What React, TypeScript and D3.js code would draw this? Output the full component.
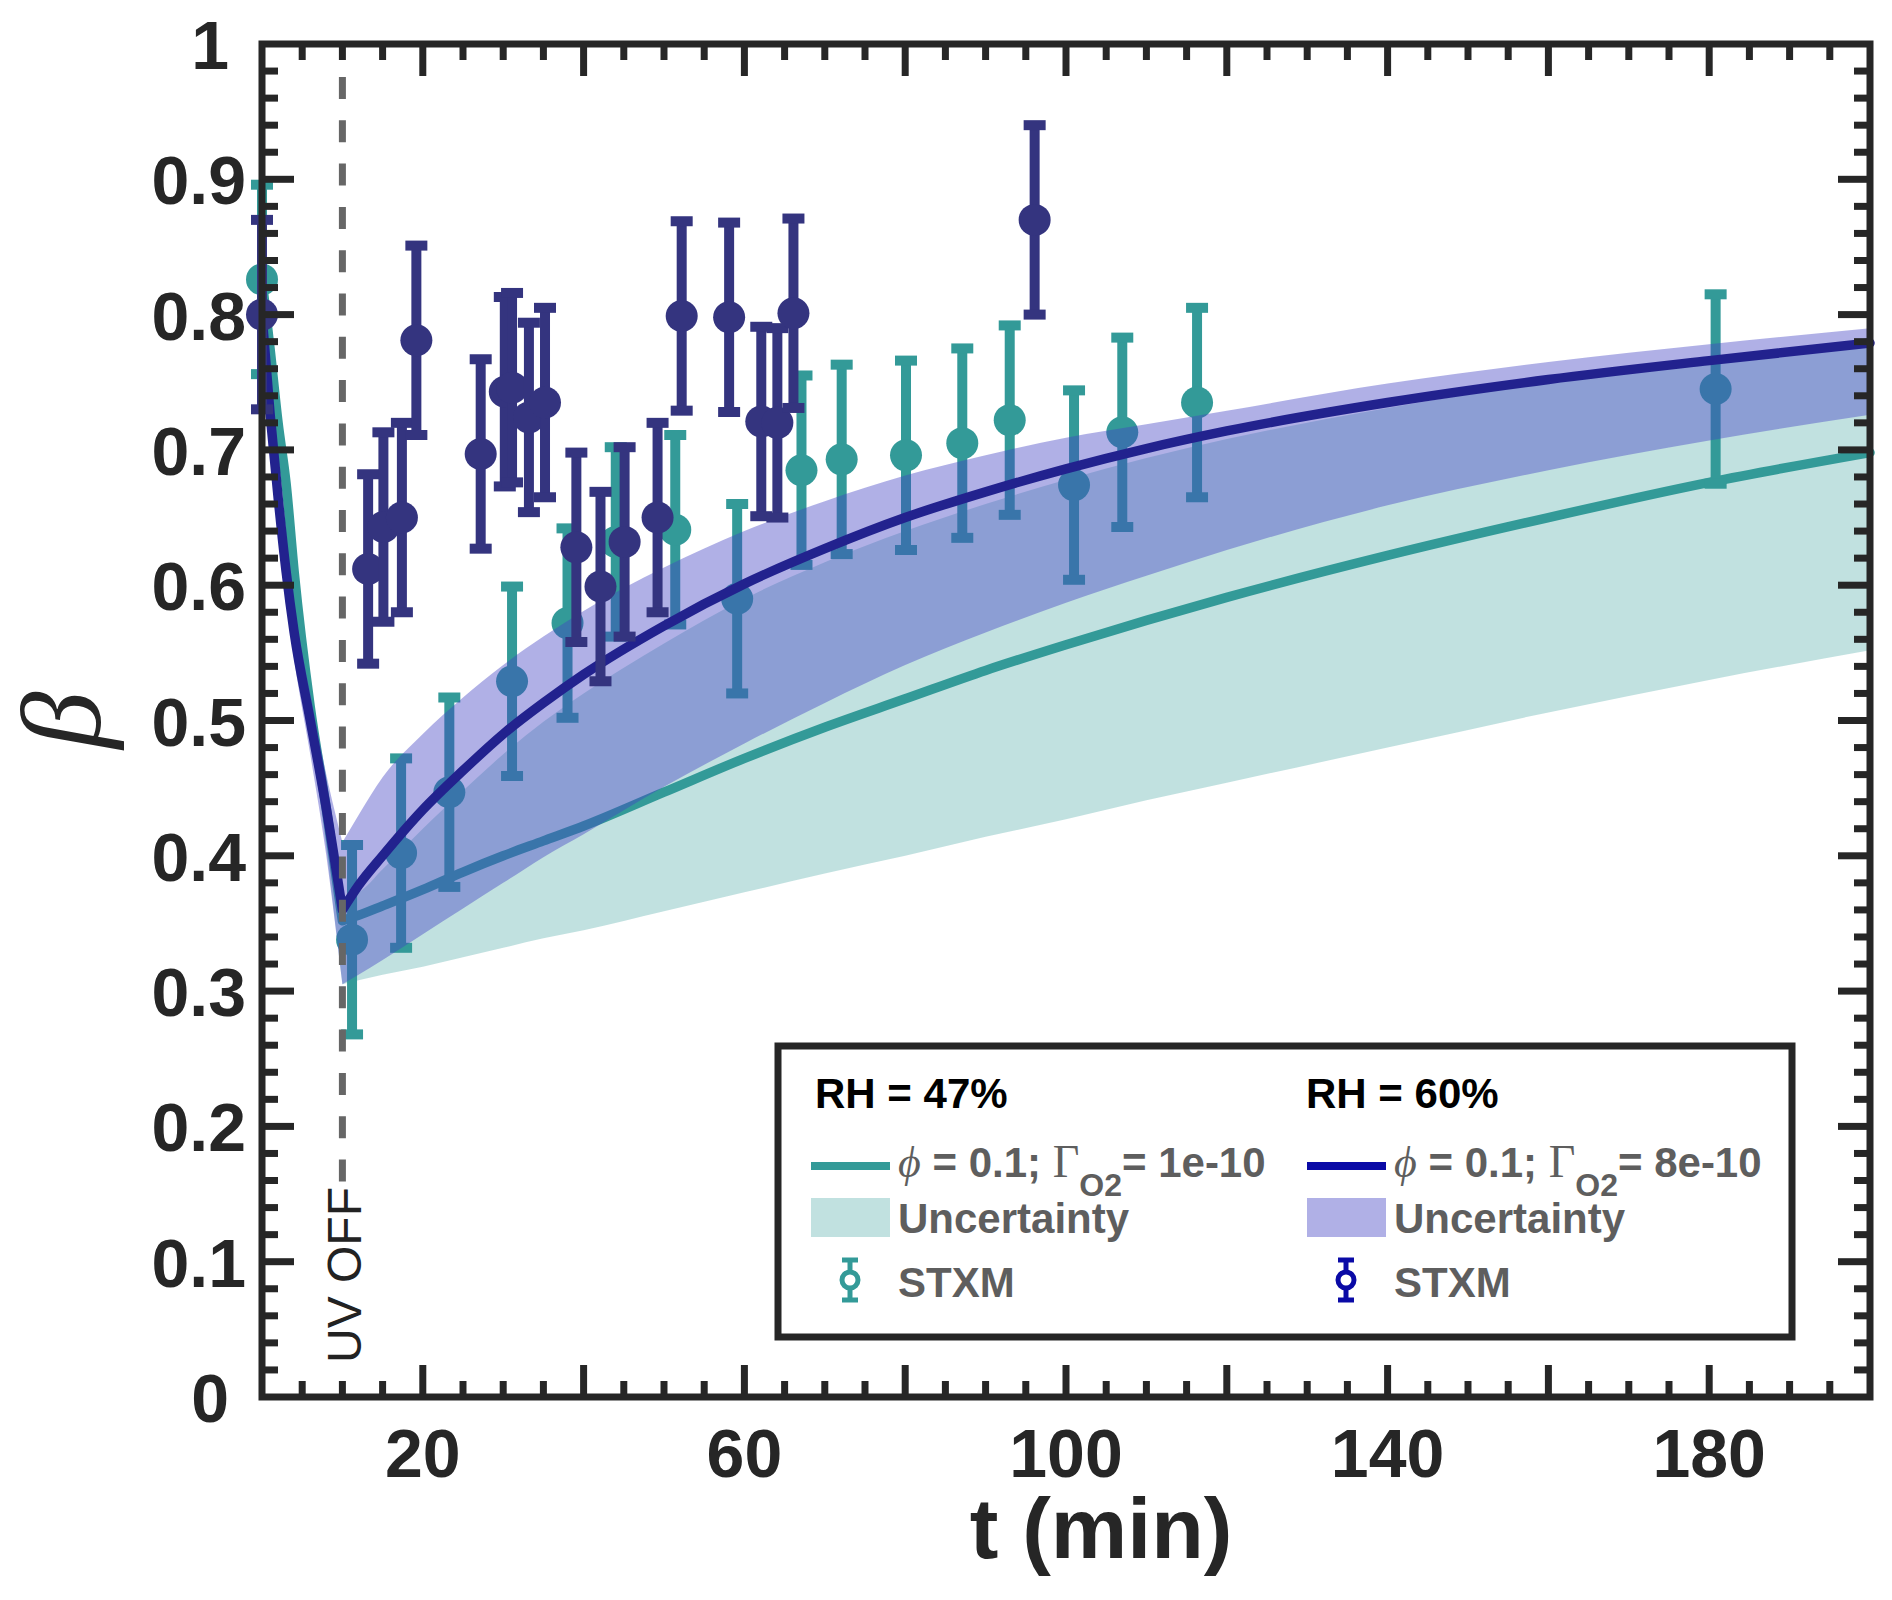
import React from 'react';
import * as d3 from 'd3';

// model time grid (min)
const modelT = [0, 1, 2, 3, 4, 6, 8, 10, 12, 15, 20, 25, 30, 35, 40, 50, 60, 70, 80, 90, 100, 110, 120, 140, 160, 180, 200];

// RH = 60% model and its uncertainty band
const fit60 = [0.8, 0.727, 0.665, 0.61, 0.565, 0.5, 0.435, 0.36, 0.378, 0.4, 0.434, 0.463, 0.49, 0.513, 0.534, 0.57, 0.601, 0.627, 0.65, 0.669, 0.686, 0.701, 0.714, 0.735, 0.752, 0.766, 0.779];
const band60Hi = [0.805, 0.74, 0.68, 0.63, 0.585, 0.52, 0.46, 0.41, 0.43, 0.458, 0.49, 0.517, 0.541, 0.562, 0.581, 0.613, 0.64, 0.662, 0.681, 0.696, 0.709, 0.719, 0.729, 0.749, 0.765, 0.778, 0.79];
const band60Lo = [0.795, 0.715, 0.65, 0.59, 0.545, 0.475, 0.4, 0.305, 0.312, 0.323, 0.342, 0.361, 0.38, 0.399, 0.416, 0.451, 0.483, 0.513, 0.541, 0.565, 0.587, 0.607, 0.626, 0.659, 0.685, 0.707, 0.726];

// RH = 47% model and its uncertainty band
const fit47 = [0.826, 0.775, 0.72, 0.675, 0.61, 0.51, 0.435, 0.352, 0.356, 0.363, 0.375, 0.388, 0.4, 0.411, 0.422, 0.447, 0.472, 0.495, 0.516, 0.537, 0.556, 0.574, 0.591, 0.622, 0.65, 0.676, 0.698];
const band47Hi = [0.835, 0.785, 0.73, 0.685, 0.625, 0.525, 0.45, 0.37, 0.373, 0.39, 0.42, 0.448, 0.475, 0.499, 0.52, 0.557, 0.59, 0.617, 0.64, 0.66, 0.678, 0.694, 0.708, 0.731, 0.75, 0.765, 0.778];
const band47Lo = [0.815, 0.765, 0.71, 0.66, 0.595, 0.495, 0.405, 0.305, 0.308, 0.312, 0.318, 0.325, 0.332, 0.339, 0.345, 0.359, 0.373, 0.387, 0.4, 0.414, 0.427, 0.441, 0.454, 0.48, 0.506, 0.53, 0.552];

// STXM measurements
const stxm47T = [0, 11.2, 17.3, 23.3, 31.1, 38.0, 44.0, 51.4, 59.1, 67.1, 72.1, 80.1, 87.1, 93.0, 101.0, 107.0, 116.3, 180.8];
const stxm47B = [0.826, 0.338, 0.402, 0.447, 0.529, 0.572, 0.632, 0.641, 0.59, 0.685, 0.693, 0.696, 0.705, 0.722, 0.674, 0.713, 0.735, 0.745];
const stxm47E = [0.07, 0.07, 0.07, 0.07, 0.07, 0.07, 0.07, 0.07, 0.07, 0.07, 0.07, 0.07, 0.07, 0.07, 0.07, 0.07, 0.07, 0.07];

const stxm60T = [0, 13.2, 15.1, 17.4, 19.2, 27.2, 30.2, 31.1, 33.2, 35.2, 39.1, 42.1, 45.1, 49.2, 52.2, 58.1, 62.1, 64.1, 66.1, 96.1];
const stxm60B = [0.8, 0.612, 0.643, 0.65, 0.781, 0.697, 0.743, 0.746, 0.724, 0.735, 0.628, 0.599, 0.632, 0.65, 0.799, 0.798, 0.721, 0.72, 0.801, 0.87];
const stxm60E = [0.07, 0.07, 0.07, 0.07, 0.07, 0.07, 0.07, 0.07, 0.07, 0.07, 0.07, 0.07, 0.07, 0.07, 0.07, 0.07, 0.07, 0.07, 0.07, 0.07];

const uvOffT = 10;
const xTickLabels = [20, 60, 100, 140, 180];
const yTickLabels = ['0', '0.1', '0.2', '0.3', '0.4', '0.5', '0.6', '0.7', '0.8', '0.9', '1'];

const TEAL = '#339a98';
const NAVY_PT = '#34347f';
const NAVY_LINE = '#22228e';
const NAVY_LEG = '#0a0aa6';
const AXIS = '#262626';
const LEG_TXT = '#5e5e5e';
const SANS = '"Liberation Sans", Arial, Helvetica, sans-serif';
const SERIF = '"Liberation Serif", "Times New Roman", serif';

type P = [number, number];
type B = [number, number, number];

export default function App() {
  const x = d3.scaleLinear().domain([0, 200]).range([262, 1870]);
  const y = d3.scaleLinear().domain([0, 1]).range([1397, 44]);
  const k = modelT.indexOf(uvOffT);

  const lineGen = d3.line<P>().x(d => x(d[0])).y(d => y(d[1])).curve(d3.curveMonotoneX);
  const areaGen = d3.area<B>().x(d => x(d[0])).y0(d => y(d[1])).y1(d => y(d[2])).curve(d3.curveMonotoneX);
  // the V at UV off is a kink, so draw both sides separately
  const linePath = (v: number[]) => {
    const pts: P[] = modelT.map((t, i) => [t, v[i]]);
    return (lineGen(pts.slice(0, k + 1)) || '') + (lineGen(pts.slice(k)) || '');
  };
  const bandPath = (lo: number[], hi: number[]) => {
    const pts: B[] = modelT.map((t, i) => [t, lo[i], hi[i]]);
    return (areaGen(pts.slice(0, k + 1)) || '') + (areaGen(pts.slice(k)) || '');
  };

  const errPoints = (ts: number[], bs: number[], es: number[], color: string) =>
    ts.map((t, i) => {
      const cx = x(t);
      const y1 = y(bs[i] + es[i]);
      const y2 = y(bs[i] - es[i]);
      return (
        <g key={i}>
          <line x1={cx} x2={cx} y1={y1} y2={y2} stroke={color} strokeWidth={10} />
          <line x1={cx - 11} x2={cx + 11} y1={y1} y2={y1} stroke={color} strokeWidth={10} />
          <line x1={cx - 11} x2={cx + 11} y1={y2} y2={y2} stroke={color} strokeWidth={10} />
          <circle cx={cx} cy={y(bs[i])} r={16} fill={color} />
        </g>
      );
    });

  const xTicks = d3.range(5, 200, 5);
  const yTicks = d3.range(1, 50).map(i => i / 50);
  const [x0, x1] = x.range();
  const [yb, yt] = y.range();

  const legendCol = (lx: number, hx: number, head: string, lineColor: string, bandColor: string, bandOp: number, icon: string, gamma: string) => (
    <g>
      <text x={hx} y={1108} fontFamily={SANS} fontWeight="bold" fontSize={42} fill="#000">{head}</text>
      <line x1={lx} x2={lx + 79} y1={1166} y2={1166} stroke={lineColor} strokeWidth={8} />
      <text x={lx + 87} y={1177} fill={LEG_TXT} fontSize={42}>
        <tspan fontFamily={SERIF} fontStyle="italic" fontSize={44}>ϕ</tspan>
        <tspan fontFamily={SANS} fontWeight="bold" xmlSpace="preserve">{' = 0.1; '}</tspan>
        <tspan fontFamily={SERIF} fontSize={46}>Γ</tspan>
        <tspan fontFamily={SANS} fontWeight="bold" fontSize={32} dy={19}>O2</tspan>
        <tspan fontFamily={SANS} fontWeight="bold" dy={-19}>{'= ' + gamma}</tspan>
      </text>
      <rect x={lx} y={1198} width={79} height={39} fill={bandColor} fillOpacity={bandOp} />
      <text x={lx + 87} y={1233} fontFamily={SANS} fontWeight="bold" fontSize={42} fill={LEG_TXT}>Uncertainty</text>
      <g stroke={icon} strokeWidth={5} fill="none">
        <line x1={lx + 39} x2={lx + 39} y1={1260} y2={1300} />
        <line x1={lx + 31} x2={lx + 47} y1={1260} y2={1260} />
        <line x1={lx + 31} x2={lx + 47} y1={1300} y2={1300} />
        <circle cx={lx + 39} cy={1280} r={8} fill="#fff" />
      </g>
      <text x={lx + 87} y={1297} fontFamily={SANS} fontWeight="bold" fontSize={42} fill={LEG_TXT}>STXM</text>
    </g>
  );

  return (
    <div style={{ position: 'absolute', left: 0, top: 0 }}>
      <svg width={1892} height={1600} viewBox="0 0 1892 1600">
        <rect width={1892} height={1600} fill="#fff" />

        {/* RH 47 */}
        <path d={bandPath(band47Lo, band47Hi)} fill={TEAL} fillOpacity={0.3} />
        <path d={linePath(fit47)} fill="none" stroke={TEAL} strokeWidth={9.5} strokeLinecap="round" />
        {errPoints(stxm47T, stxm47B, stxm47E, TEAL)}

        {/* RH 60 */}
        <path d={bandPath(band60Lo, band60Hi)} fill="#4343c3" fillOpacity={0.42} />
        <path d={linePath(fit60)} fill="none" stroke={NAVY_LINE} strokeWidth={9.5} strokeLinecap="round" />
        {errPoints(stxm60T, stxm60B, stxm60E, NAVY_PT)}

        {/* UV off marker */}
        <line x1={x(uvOffT)} x2={x(uvOffT)} y1={77} y2={1190} stroke="#666" strokeWidth={7} strokeDasharray="22 21.3" />
        <text transform={`translate(${x(uvOffT) + 19},1363) rotate(-90)`} fontFamily={SANS} fontSize={48} fill="#222">UV OFF</text>

        {/* axes box and ticks */}
        <g stroke={AXIS} strokeWidth={7}>
          {xTicks.map(t => {
            const len = t % 20 === 0 ? 32 : 16;
            return (
              <g key={'x' + t}>
                <line x1={x(t)} x2={x(t)} y1={yb} y2={yb - len} />
                <line x1={x(t)} x2={x(t)} y1={yt} y2={yt + len} />
              </g>
            );
          })}
          {yTicks.map((v, i) => {
            const len = (i + 1) % 5 === 0 ? 32 : 16;
            return (
              <g key={'y' + i}>
                <line x1={x0} x2={x0 + len} y1={y(v)} y2={y(v)} />
                <line x1={x1} x2={x1 - len} y1={y(v)} y2={y(v)} />
              </g>
            );
          })}
          <rect x={x0} y={yt} width={x1 - x0} height={yb - yt} fill="none" />
        </g>

        <g fontFamily={SANS} fontWeight="bold" fontSize={68} fill={AXIS}>
          {xTickLabels.map(t => (
            <text key={t} x={x(t)} y={1477} textAnchor="middle">{t}</text>
          ))}
          {yTickLabels.map(l => (
            <text key={l} x={l.length === 1 ? 229 : 246} y={y(+l) + 25} textAnchor="end">{l}</text>
          ))}
        </g>

        <text x={1101} y={1558} textAnchor="middle" fontFamily={SANS} fontWeight="bold" fontSize={86} fill={AXIS}>t (min)</text>
        <text transform="translate(100,720) rotate(-90)" textAnchor="middle" fontFamily={SERIF} fontStyle="italic" fontSize={115} fill={AXIS}>β</text>

        {/* legend */}
        <rect x={778} y={1046} width={1014} height={291} fill="#fff" stroke={AXIS} strokeWidth={7} />
        {legendCol(811, 815, 'RH = 47%', TEAL, TEAL, 0.3, TEAL, '1e-10')}
        {legendCol(1307, 1306, 'RH = 60%', NAVY_LEG, '#4343c3', 0.42, NAVY_LEG, '8e-10')}
      </svg>
    </div>
  );
}
